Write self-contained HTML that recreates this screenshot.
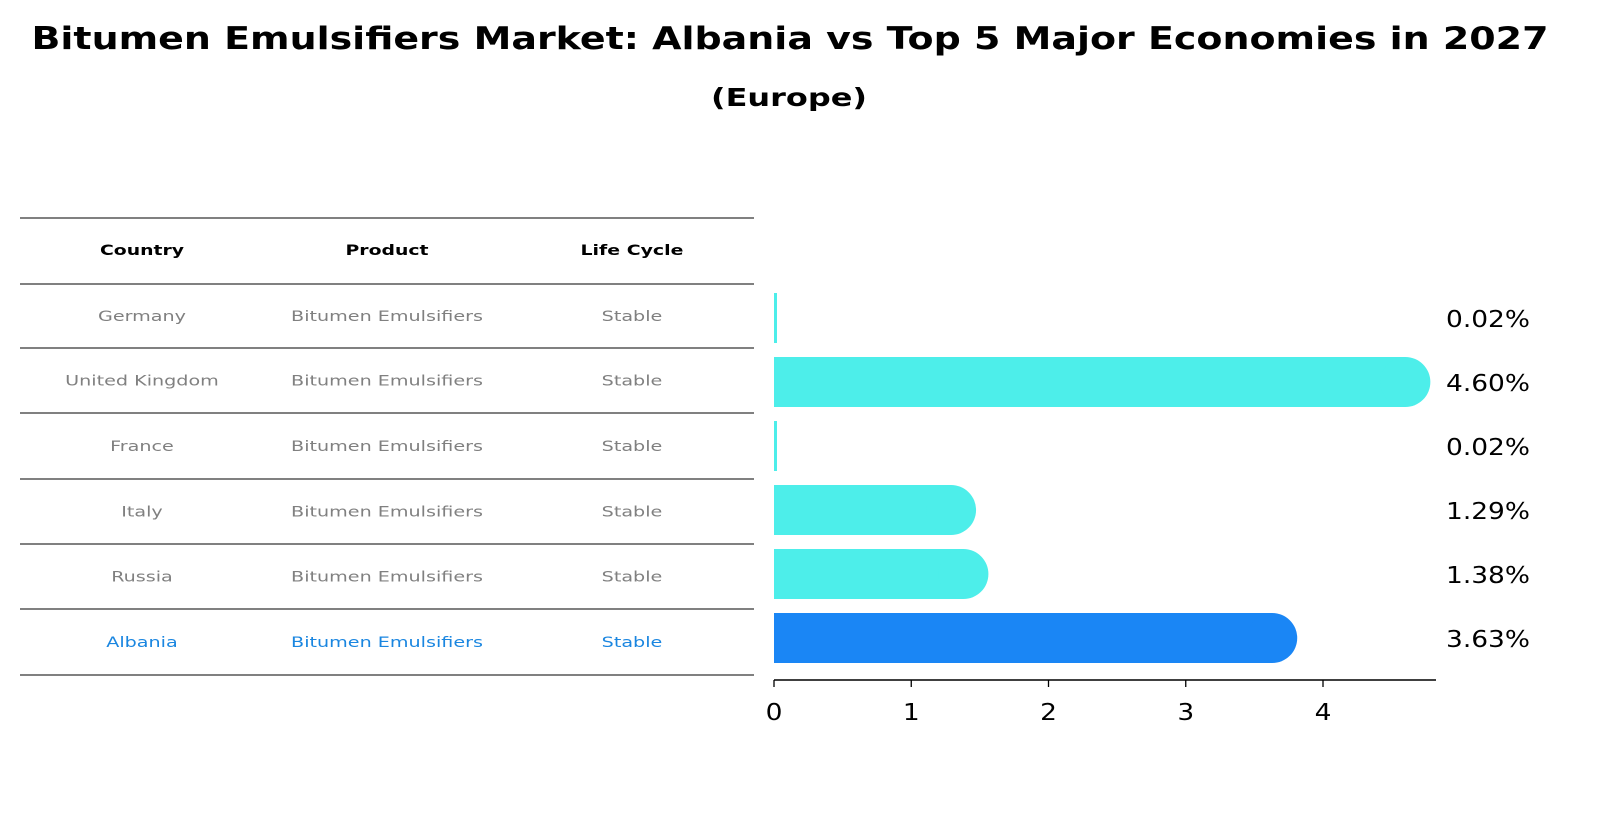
<!DOCTYPE html>
<html><head><meta charset="utf-8"><style>
html,body{margin:0;padding:0;background:#fff;overflow:hidden;width:1604px;height:823px}
svg{display:block}
</style></head><body>
<svg width="1604" height="823" xmlns="http://www.w3.org/2000/svg" font-family="'DejaVu Sans', 'Liberation Sans', sans-serif">
<text x="790" y="49" text-anchor="middle" font-size="31" font-weight="bold" textLength="1517" lengthAdjust="spacingAndGlyphs">Bitumen Emulsifiers Market: Albania vs Top 5 Major Economies in 2027</text>
<text x="789" y="106" text-anchor="middle" font-size="25" font-weight="bold" textLength="156" lengthAdjust="spacingAndGlyphs">(Europe)</text>
<g id="table"></g>
<g id="bars"></g>
</svg>
<script>
const countries=["Germany","United Kingdom","France","Italy","Russia","Albania"];
const products=["Bitumen Emulsifiers","Bitumen Emulsifiers","Bitumen Emulsifiers","Bitumen Emulsifiers","Bitumen Emulsifiers","Bitumen Emulsifiers"];
const lifecycle=["Stable","Stable","Stable","Stable","Stable","Stable"];
const values=[0.02,4.60,0.02,1.29,1.38,3.63];
const labels=["0.02%","4.60%","0.02%","1.29%","1.38%","3.63%"];
const ticks=[0,1,2,3,4];
const NS="http://www.w3.org/2000/svg";
function mk(t,a,p,txt){const e=document.createElementNS(NS,t);for(const k in a)e.setAttribute(k,a[k]);if(txt!==undefined)e.textContent=txt;p.appendChild(e);return e;}
function stretch(t,k){const w=t.getComputedTextLength();t.setAttribute('textLength',w*k);t.setAttribute('lengthAdjust','spacingAndGlyphs');}
const tb=document.getElementById('table');
const lines=[218,284,348,413,479,544,609,675];
lines.forEach(y=>{const l=mk('line',{x1:20,x2:754,y1:y,y2:y,stroke:'#000','stroke-width':1},tb);

});
const cx=[142,387,632];
const hw=[84,83,103];
["Country","Product","Life Cycle"].forEach((h,i)=>{const t=mk('text',{x:cx[i],y:255,'text-anchor':'middle','font-size':14,'font-weight':'bold'},tb,h);


t.setAttribute('textLength',hw[i]);t.setAttribute('lengthAdjust','spacingAndGlyphs');});
const rowY=i=>(lines[i+1]+lines[i+2])/2+5;
countries.forEach((c,i)=>{const col=i===countries.length-1?'#1a86e0':'#808080';
[c,products[i],lifecycle[i]].forEach((v,j)=>{const t=mk('text',{x:cx[j],y:rowY(i),'text-anchor':'middle','font-size':14.5,fill:col},tb,v);


stretch(t,1.32);});});
const bg=document.getElementById('bars');
const x0=774,ppu=137.25;const xs=v=>x0+v*ppu;
const barY=i=>318+i*64;const h=50;
values.forEach((v,i)=>{const col=i===values.length-1?'#1a86f5':'#4deeea';
const g=mk('g',{},bg);


const w=Math.max(xs(v)-x0,3);
mk('rect',{x:x0,y:barY(i)-h/2,width:w,height:h,fill:col},g);
if(v>0.3)mk('circle',{cx:xs(v),cy:barY(i),r:h/2,fill:col},g);
const t=mk('text',{x:1446,y:barY(i)+9,'font-size':23,textLength:84,lengthAdjust:'spacingAndGlyphs'},bg,labels[i]);

});
const ax=mk('line',{x1:x0,x2:1436,y1:680,y2:680,stroke:'#000','stroke-width':1.5},bg);


ticks.forEach(t=>{mk('line',{x1:xs(t),x2:xs(t),y1:680,y2:687,stroke:'#000','stroke-width':1.3},bg);
const l=mk('text',{x:xs(t),y:720,'text-anchor':'middle','font-size':23},bg,String(t));


stretch(l,1.15);});
</script>
</body></html>
